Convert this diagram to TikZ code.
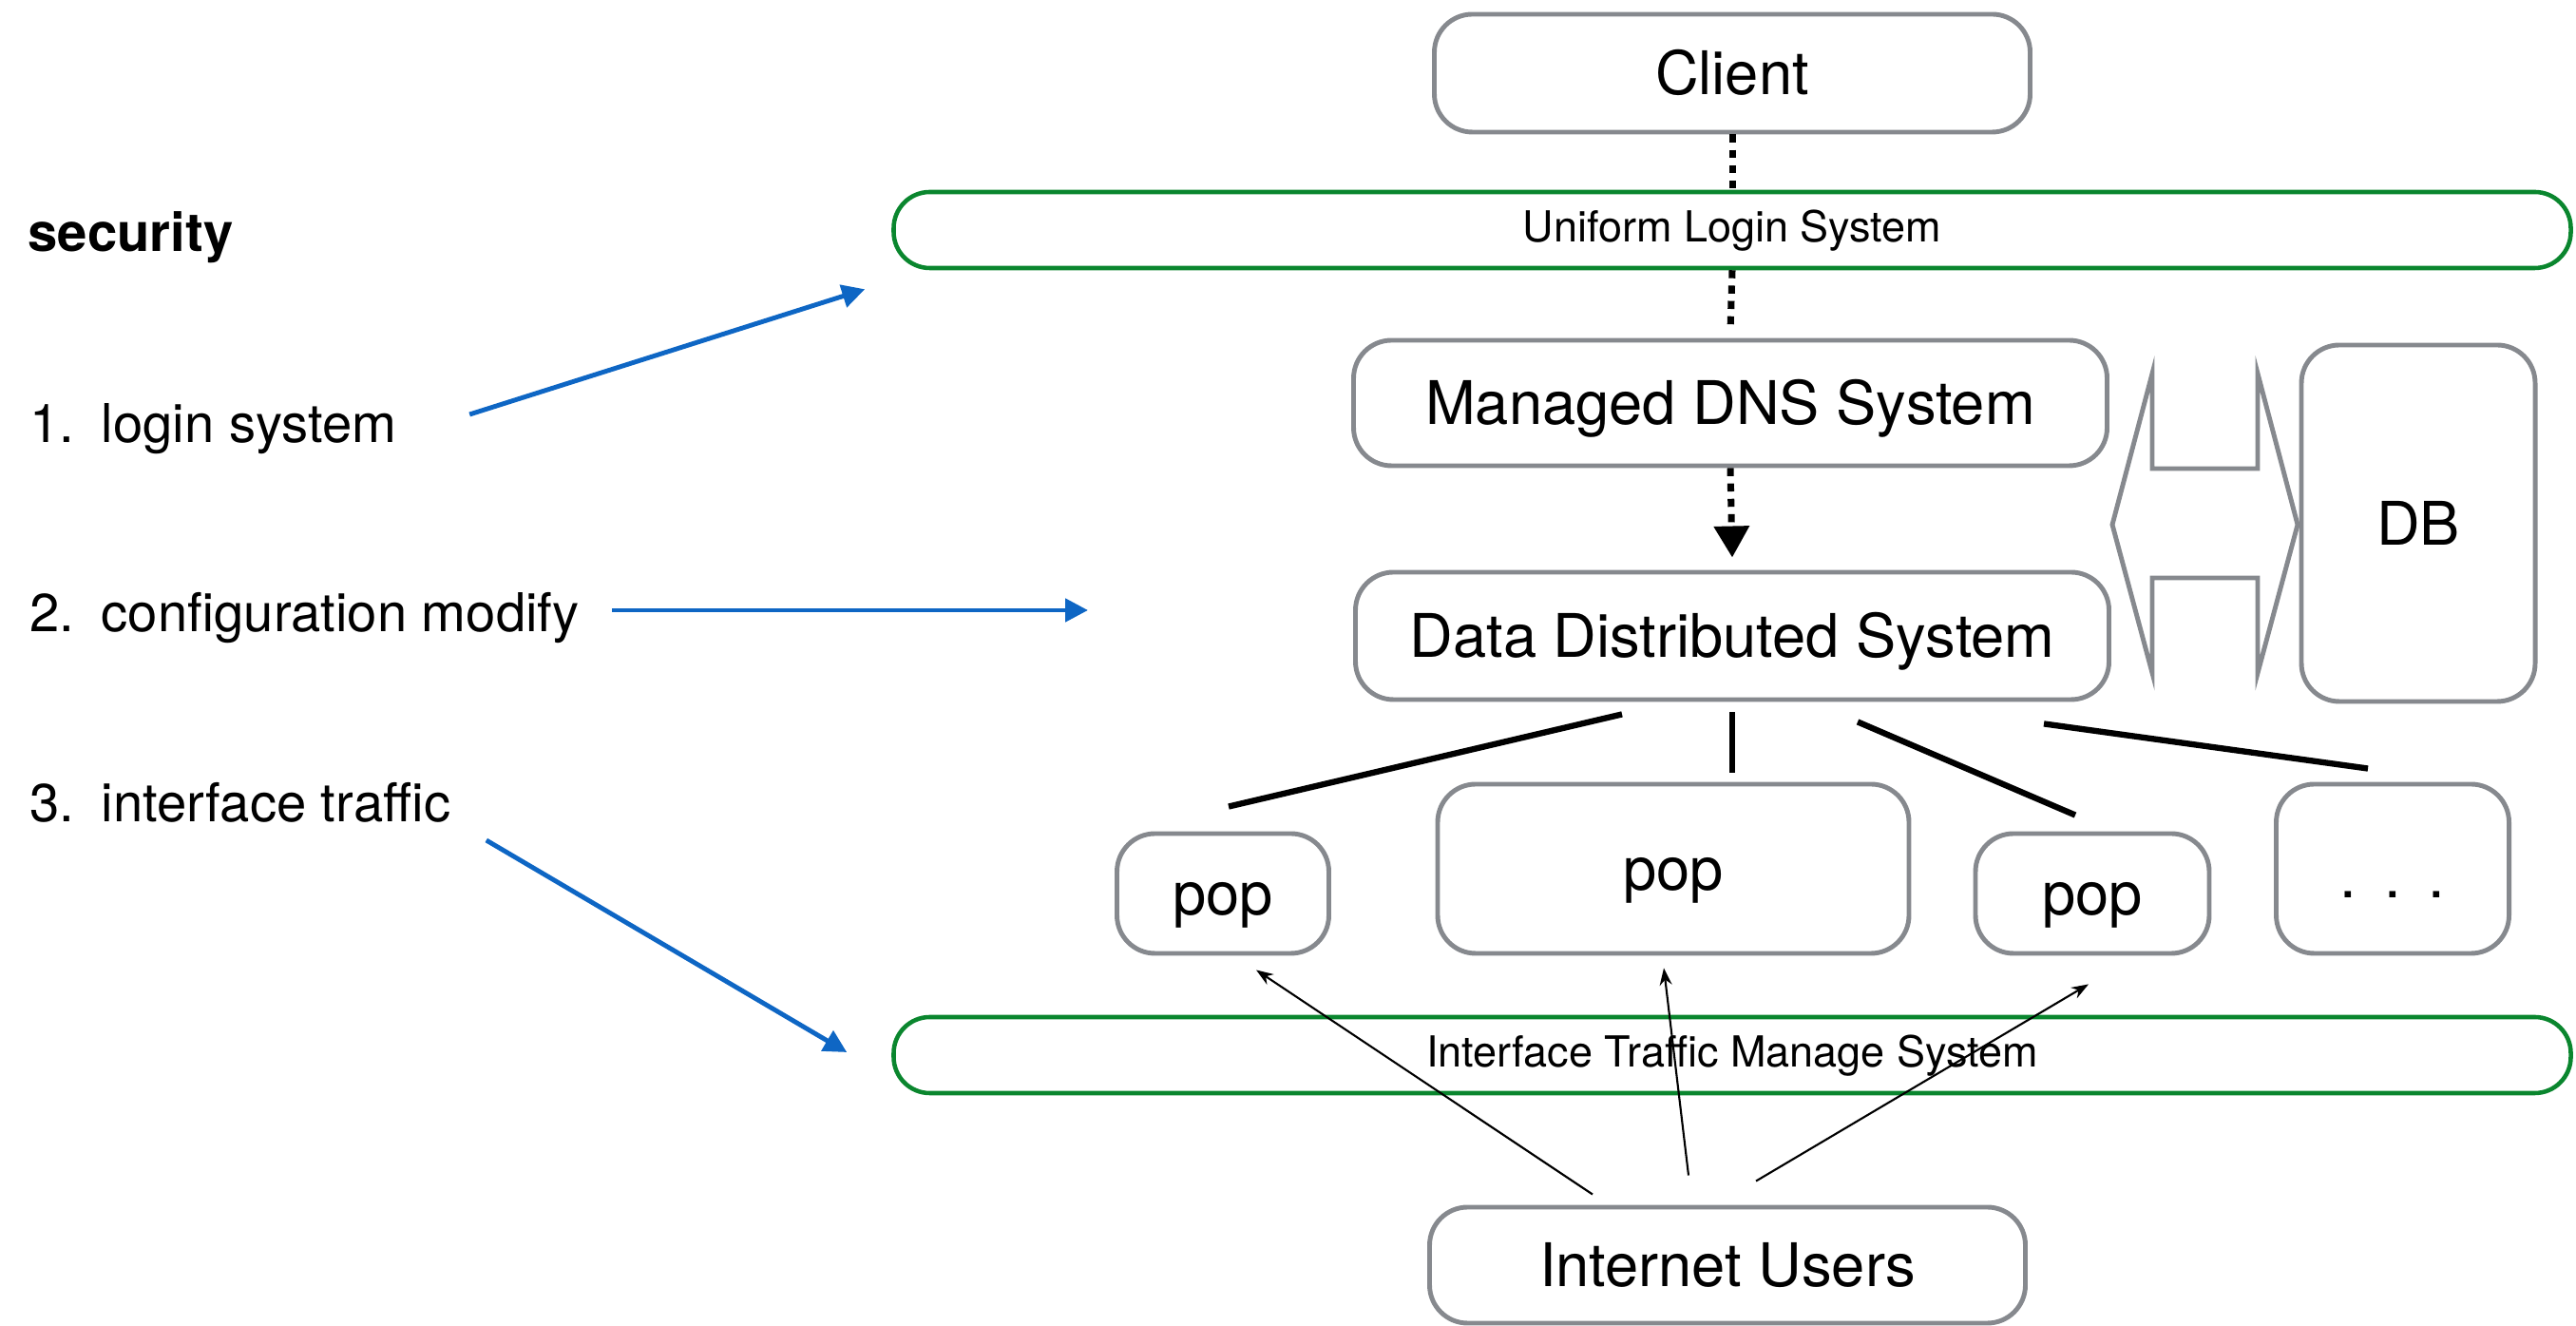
\documentclass[tikz,border=0pt]{standalone}
\usepackage{fontspec}
\setmainfont{TeX Gyre Heros}
\usepackage{xcolor}
\definecolor{boxgray}{RGB}{134, 137, 142}
\definecolor{layergreen}{RGB}{10, 134, 46}
\definecolor{noteblue}{RGB}{14, 102, 196}
\usetikzlibrary{arrows.meta}

\begin{document}
\begin{tikzpicture}[> = {Stealth[length=1.8mm, width=1.3mm]},
		sysbox/.style={draw=boxgray, line width=1.4pt, rounded corners=0.4cm, inner sep=0pt, text height=1.3em, text depth=0pt, font=\fontsize{18}{22}\selectfont},
		layerbar/.style={draw=layergreen, line width=1.3pt, rounded corners=0.38cm, minimum width=17.65cm, minimum height=0.8cm, inner sep=0pt, text height=0.72em, text depth=0pt, font=\fontsize{12.8}{15}\selectfont},
		listtext/.style={anchor=base west, inner sep=0pt, font=\fontsize{16}{19}\selectfont},
		dotline/.style={line width=2pt, dash pattern=on 2.4pt off 2.2pt},
		popline/.style={line width=1.8pt},
		userarrow/.style={->, line width=0.6pt},
		notearrow/.style={-{Triangle[length=2.4mm, width=2.4mm]}, draw=noteblue, line width=1.4pt}]
			\useasboundingbox (0,0) rectangle (27.11,13.95);
			
			% systems
			\node [sysbox, minimum width=6.27cm, minimum height=1.24cm] (client) at (18.23,13.18) {Client};
			\node [layerbar] (login) at (18.23,11.53) {Uniform Login System};
			\node [sysbox, minimum width=7.93cm, minimum height=1.32cm] (dns) at (18.21,9.71) {Managed DNS System};
			\node [sysbox, minimum width=7.93cm, minimum height=1.34cm] (dds) at (18.23,7.26) {Data Distributed System};
			\node [sysbox, minimum width=2.46cm, minimum height=3.75cm] (db) at (25.45,8.445) {DB};
			
			\node [sysbox, minimum width=2.23cm, minimum height=1.26cm] (popa) at (12.87,4.55) {pop};
			\node [sysbox, minimum width=4.96cm, minimum height=1.78cm] (popb) at (17.61,4.81) {pop};
			\node [sysbox, minimum width=2.46cm, minimum height=1.26cm] (popc) at (22.02,4.55) {pop};
			\node [sysbox, minimum width=2.45cm, minimum height=1.78cm] (popd) at (25.18,4.81) {\raisebox{-0.08cm}{.\hspace{0.29cm}.\hspace{0.29cm}.}};
			
			\node [layerbar] (traffic) at (18.23,2.85) {Interface Traffic Manage System};
			\node [sysbox, minimum width=6.27cm, minimum height=1.22cm] (users) at (18.18,0.64) {Internet Users};
			
			% DNS/DDS <-> DB
			\draw [draw=boxgray, line width=1.4pt] (22.23,8.43) -- (22.65,10.02) -- (22.65,9.02) -- (23.76,9.02) -- (23.76,10.02) -- (24.18,8.43) -- (23.76,6.87) -- (23.76,7.87) -- (22.65,7.87) -- (22.65,6.87) -- cycle;
			
			\draw [dotline] (client.south) -- (login.north);
			\draw [dotline] (login.south) -- ([yshift=0.08cm]dns.north);
			\draw [dotline, -{Triangle[length=3.3mm, width=3.6mm]}] (dns.south) -- ([yshift=0.13cm]dds.north);
			
			\draw [popline] ([xshift=-1.16cm, yshift=-0.13cm]dds.south) -- ([xshift=0.06cm, yshift=0.26cm]popa.north);
			\draw [popline] ([yshift=-0.11cm]dds.south) -- ([xshift=0.62cm, yshift=0.1cm]popb.north);
			\draw [popline] ([xshift=1.32cm, yshift=-0.21cm]dds.south) -- ([xshift=-0.18cm, yshift=0.17cm]popc.north);
			\draw [popline] ([xshift=3.28cm, yshift=-0.23cm]dds.south) -- ([xshift=-0.26cm, yshift=0.14cm]popd.north);
			
			\draw [userarrow] ([xshift=-1.42cm, yshift=0.11cm]users.north) -- ([xshift=0.35cm, yshift=-0.15cm]popa.south);
			\draw [userarrow] ([xshift=-0.41cm, yshift=0.31cm]users.north) -- ([xshift=-0.1cm, yshift=-0.13cm]popb.south);
			\draw [userarrow] ([xshift=0.3cm, yshift=0.25cm]users.north) -- ([xshift=-0.04cm, yshift=-0.3cm]popc.south);
			
			% security notes
			\node [listtext, font=\bfseries\fontsize{16}{19}\selectfont] (security) at (0.29,11.30) {security};
			\node [listtext] (num1) at (0.31,9.29) {1.};
			\node [listtext] (item1) at (1.06,9.29) {login system};
			\node [listtext] (num2) at (0.31,7.30) {2.};
			\node [listtext] (item2) at (1.06,7.30) {configuration modify};
			\node [listtext] (num3) at (0.31,5.30) {3.};
			\node [listtext] (item3) at (1.06,5.30) {interface traffic};
			\coordinate (cfgtip) at (11.45,7.53);
			
			\draw [notearrow] ([xshift=0.76cm, yshift=0.3cm]item1.base east) -- ([xshift=-0.28cm, yshift=-0.2cm]login.south west);
			\draw [notearrow] ([xshift=0.34cm, yshift=0.23cm]item2.base east) -- (cfgtip);
			\draw [notearrow] ([xshift=0.37cm, yshift=-0.19cm]item3.base east) -- ([xshift=-0.47cm, yshift=0.03cm]traffic.west);
		\end{tikzpicture}
\end{document}
